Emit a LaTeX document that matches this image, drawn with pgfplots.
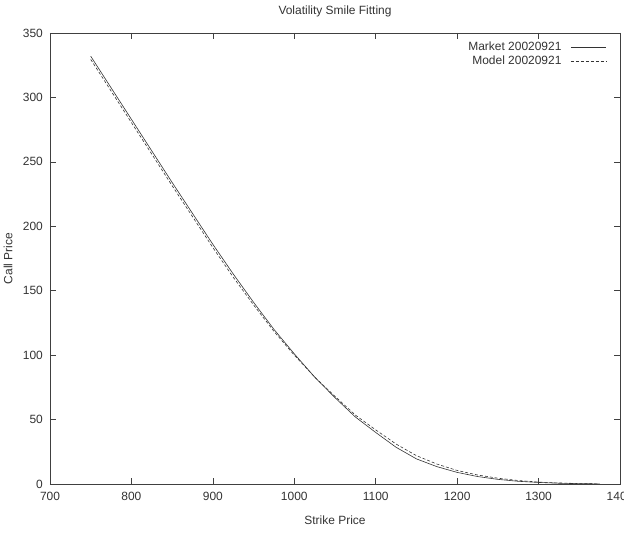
\documentclass[border=0pt]{standalone}
\usepackage{pgfplots}
\pgfplotsset{compat=1.18}
\usepackage{fontspec}
\setmainfont{Liberation Sans}
\begin{document}
\fontsize{12}{14}\selectfont
\begin{tikzpicture}
\begin{axis}[
  at={(0,0)}, anchor=south west,
  scale only axis, width=570bp, height=451bp,
  xmin=700, xmax=1400, ymin=0, ymax=350,
  xtick={700,800,...,1400}, ytick={0,50,...,350},
  tick align=inside, major tick length=6bp,
  axis line style={line width=0.8pt, black!75},
  tick style={line width=0.6pt, black!75},
  /pgf/number format/assume math mode=true,
  /pgf/number format/1000 sep={},
  ticklabel style={font=\fontsize{12}{14}\selectfont, text=black!80},
  xticklabel style={yshift=-4bp},
  yticklabel style={xshift=-3bp},
  title={Volatility Smile Fitting},
  title style={font=\fontsize{12}{14}\selectfont, text=black!80, at={(axis description cs:0.5,1)}, anchor=center, yshift=16bp},
  xlabel={Strike Price},
  ylabel={Call Price},
  label style={font=\fontsize{12}{14}\selectfont, text=black!80},
  xlabel style={at={(axis description cs:0.5,-0.0798)}, anchor=center, yshift=0pt},
  ylabel style={at={(axis description cs:-0.0737,0.5)}, anchor=center, xshift=0pt},
  legend style={draw=none, fill=none, at={(0.982,0.99)}, anchor=north east,
    font=\fontsize{12}{14}\selectfont, text=black!80, row sep=0bp},
  legend cell align=right,
  legend plot pos=right,
  legend image code/.code={\path (0cm,0cm); \draw[#1] (0.25cm,0cm) -- (1.5cm,0cm);},
]
\addplot[black!80, line width=0.6pt] coordinates {
(750,332) (775,307.5) (800,283) (825,258.5) (850,234) (875,210) (900,186)
(925,163) (950,141) (975,120) (1000,101) (1025,83) (1050,67) (1075,52)
(1100,40) (1125,28.5) (1150,19.5) (1175,13.5) (1200,9) (1225,5.8)
(1250,3.6) (1275,2.1) (1300,1.2) (1325,0.6) (1350,0.25) (1375,0.1)
};
\addlegendentry{Market 20020921}
\addplot[black!80, line width=0.6pt, dash pattern=on 3bp off 2bp] coordinates {
(750,329.5) (775,305) (800,280.5) (825,256) (850,231.5) (875,207.5) (900,183.5)
(925,160.5) (950,139) (975,118.5) (1000,100) (1025,83) (1050,68) (1075,53.5)
(1100,42) (1125,31) (1150,22) (1175,15.5) (1200,10.5) (1225,7)
(1250,4.5) (1275,2.7) (1300,1.5) (1325,0.8) (1350,0.35) (1375,0.1)
};
\addlegendentry{Model 20020921}
\end{axis}
\pgfresetboundingbox
\useasboundingbox (-50bp,-51bp) rectangle (574bp,484bp);
\end{tikzpicture}
\end{document}
